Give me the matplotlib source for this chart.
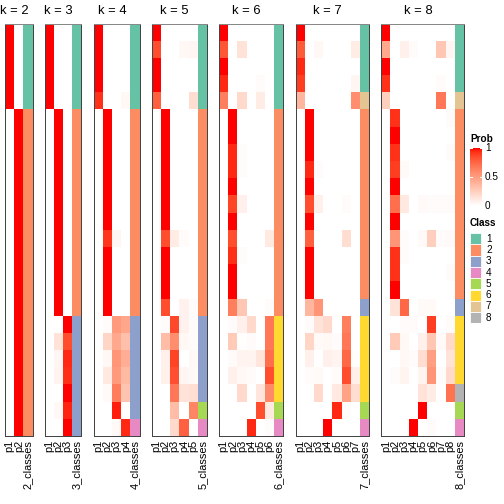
import numpy as np
import matplotlib
matplotlib.use("Agg")
import matplotlib.pyplot as plt
from matplotlib.colors import ListedColormap, BoundaryNorm
from matplotlib.patches import Rectangle

plt.rcParams['font.family'] = ['Liberation Sans', 'DejaVu Sans']

##### DATA (24 samples, membership probability per class)
ks = [2, 3, 4, 5, 6, 7, 8]

prob_k2 = [[1, 0], [1, 0], [1, 0], [1, 0], [1, 0],
           [0, 1], [0, 1], [0, 1], [0, 1], [0, 1], [0, 1], [0, 1], [0, 1], [0, 1], [0, 1],
           [0, 1], [0, 1], [0, 1], [0, 1], [0, 1], [0, 1], [0, 1], [0, 1], [0, 1]]
class_k2 = [1, 1, 1, 1, 1, 2, 2, 2, 2, 2, 2, 2, 2, 2, 2, 2, 2, 2, 2, 2, 2, 2, 2, 2]

prob_k3 = [[1, 0, 0], [1, 0, 0], [1, 0, 0], [1, 0, 0], [1, 0, 0],
           [0, 1, 0], [0, 1, 0], [0, 1, 0], [0, 1, 0], [0, 1, 0], [0, 1, 0],
           [0, 1, 0], [0, 1, 0], [0, 1, 0], [0, 1, 0], [0, 1, 0], [0, 1, 0],
           [0, 0, 1], [0, 0.15, 0.85], [0, 0.05, 0.95], [0, 0.06, 0.94],
           [0, 0, 1], [0, 0.04, 0.96], [0, 0, 1]]
class_k3 = [1, 1, 1, 1, 1, 2, 2, 2, 2, 2, 2, 2, 2, 2, 2, 2, 2, 3, 3, 3, 3, 3, 3, 3]

prob_k4 = [[1, 0, 0, 0], [1, 0, 0, 0], [1, 0, 0, 0], [1, 0, 0, 0], [0.93, 0, 0, 0.04],
           [0, 1, 0, 0], [0, 1, 0, 0], [0, 1, 0, 0], [0, 1, 0, 0], [0, 1, 0, 0], [0, 1, 0, 0],
           [0, 1, 0, 0], [0, 0.92, 0.05, 0], [0, 1, 0, 0], [0, 1, 0, 0], [0, 1, 0, 0], [0, 1, 0, 0],
           [0, 0.02, 0.52, 0.46], [0, 0.22, 0.45, 0.33], [0, 0.04, 0.54, 0.42],
           [0, 0.12, 0.52, 0.36], [0, 0.03, 0.66, 0.31], [0, 0, 0.97, 0.01], [0, 0, 0.03, 0.95]]
class_k4 = [1, 1, 1, 1, 1, 2, 2, 2, 2, 2, 2, 2, 2, 2, 2, 2, 2, 3, 3, 3, 3, 3, 3, 4]

prob_k5 = [[1, 0, 0, 0, 0], [0.85, 0, 0, 0.04, 0.05], [1, 0, 0, 0, 0], [1, 0, 0, 0, 0],
           [0.78, 0, 0, 0, 0.18],
           [0, 1, 0, 0, 0], [0, 1, 0, 0, 0], [0, 1, 0, 0, 0], [0, 1, 0, 0, 0], [0, 1, 0, 0, 0],
           [0, 1, 0, 0, 0], [0, 1, 0, 0, 0], [0, 0.85, 0.1, 0.02, 0], [0, 1, 0, 0, 0],
           [0, 1, 0, 0, 0], [0, 1, 0, 0, 0], [0, 0.85, 0, 0.07, 0.02],
           [0, 0.02, 0.87, 0.07, 0.02], [0, 0.35, 0.58, 0.04, 0.02], [0, 0.08, 0.88, 0, 0.04],
           [0, 0.08, 0.84, 0.05, 0.03], [0, 0, 0.68, 0.15, 0.17], [0, 0, 0.35, 0, 0.62],
           [0, 0, 0.2, 0.78, 0]]
class_k5 = [1, 1, 1, 1, 1, 2, 2, 2, 2, 2, 2, 2, 2, 2, 2, 2, 2, 3, 3, 3, 3, 3, 5, 4]

prob_k6 = [[1, 0, 0, 0, 0, 0], [0.82, 0, 0.15, 0, 0, 0], [1, 0, 0, 0, 0, 0],
           [0.95, 0, 0, 0, 0.02, 0], [0.65, 0, 0.2, 0, 0.1, 0],
           [0, 1, 0, 0, 0, 0], [0, 1, 0, 0, 0, 0], [0, 0.95, 0.02, 0, 0, 0],
           [0, 0.95, 0.02, 0, 0, 0], [0, 1, 0, 0, 0, 0], [0, 0.88, 0.08, 0, 0, 0],
           [0, 1, 0, 0, 0, 0], [0, 0.85, 0, 0, 0, 0.12], [0, 0.94, 0.02, 0, 0, 0],
           [0, 1, 0, 0, 0, 0], [0, 1, 0, 0, 0, 0], [0, 0.65, 0.3, 0, 0, 0.02],
           [0, 0.02, 0.08, 0.2, 0, 0.68], [0, 0.28, 0.01, 0.02, 0, 0.68],
           [0, 0.02, 0.06, 0.06, 0.14, 0.72], [0, 0.08, 0.04, 0.02, 0, 0.85],
           [0, 0, 0.2, 0, 0.14, 0.6], [0, 0, 0, 0, 0.85, 0.12], [0, 0, 0, 0.95, 0, 0.02]]
class_k6 = [1, 1, 1, 1, 1, 2, 2, 2, 2, 2, 2, 2, 2, 2, 2, 2, 2, 6, 6, 6, 6, 6, 5, 4]

prob_k7 = [[1, 0, 0, 0, 0, 0, 0], [0.8, 0, 0.04, 0, 0, 0, 0.1], [0.95, 0, 0, 0, 0, 0, 0],
           [0.9, 0, 0, 0, 0, 0, 0.05], [0.38, 0, 0, 0, 0, 0, 0.58],
           [0, 1, 0, 0, 0, 0, 0], [0, 1, 0, 0, 0, 0, 0], [0, 1, 0, 0, 0, 0, 0],
           [0, 0.95, 0.02, 0, 0, 0, 0], [0, 1, 0, 0, 0, 0, 0], [0, 0.85, 0.08, 0, 0, 0.02, 0],
           [0, 1, 0, 0, 0, 0, 0], [0, 0.78, 0, 0, 0, 0.18, 0], [0, 1, 0, 0, 0, 0, 0],
           [0, 1, 0, 0, 0, 0, 0], [0, 1, 0, 0, 0, 0, 0], [0, 0.38, 0.55, 0, 0, 0, 0],
           [0, 0.02, 0.15, 0.2, 0, 0.65, 0], [0, 0.22, 0.03, 0.04, 0.02, 0.68, 0],
           [0, 0.08, 0, 0.08, 0.06, 0.75, 0.01], [0, 0.02, 0.03, 0, 0.02, 0.85, 0.08],
           [0, 0, 0.2, 0, 0.12, 0.48, 0.18], [0, 0, 0, 0, 0.95, 0.02, 0], [0, 0, 0, 1, 0, 0, 0]]
class_k7 = [1, 1, 1, 1, 7, 2, 2, 2, 2, 2, 2, 2, 2, 2, 2, 2, 3, 6, 6, 6, 6, 6, 5, 4]

prob_k8 = [[1, 0, 0, 0, 0, 0, 0, 0], [0.45, 0, 0.08, 0.02, 0, 0, 0.3, 0.05],
           [1, 0, 0, 0, 0, 0, 0, 0], [0.93, 0, 0, 0, 0, 0, 0.02, 0],
           [0.25, 0, 0, 0, 0, 0, 0.68, 0],
           [0, 0.93, 0, 0, 0, 0, 0, 0.02], [0, 1, 0, 0, 0, 0, 0, 0],
           [0, 0.93, 0, 0, 0, 0, 0, 0.02], [0, 0.9, 0.03, 0, 0, 0, 0, 0],
           [0, 1, 0, 0, 0, 0, 0, 0], [0, 0.72, 0.12, 0, 0.03, 0.02, 0.02, 0.02],
           [0, 1, 0, 0, 0, 0, 0, 0], [0, 0.55, 0.02, 0, 0.03, 0.25, 0.02, 0.03],
           [0, 0.93, 0.02, 0, 0, 0, 0, 0], [0, 0.93, 0, 0, 0, 0, 0, 0.02],
           [0, 1, 0, 0, 0, 0, 0, 0], [0, 0.15, 0.75, 0, 0.03, 0.03, 0, 0],
           [0, 0, 0.02, 0.02, 0, 0.9, 0, 0.02], [0, 0.28, 0.04, 0, 0.08, 0.3, 0.03, 0.2],
           [0, 0, 0.04, 0.02, 0.18, 0.5, 0, 0.15], [0, 0.02, 0.06, 0, 0.06, 0.55, 0.02, 0.2],
           [0, 0, 0, 0, 0.15, 0.1, 0, 0.7], [0, 0, 0, 0, 1, 0, 0, 0],
           [0, 0, 0, 1, 0, 0.02, 0, 0]]
class_k8 = [1, 1, 1, 1, 7, 2, 2, 2, 2, 2, 2, 2, 2, 2, 2, 2, 3, 6, 6, 6, 6, 8, 5, 4]

probs = [prob_k2, prob_k3, prob_k4, prob_k5, prob_k6, prob_k7, prob_k8]
classes = [class_k2, class_k3, class_k4, class_k5, class_k6, class_k7, class_k8]

class_labels = ['1', '2', '3', '4', '5', '6', '7', '8']
class_colors = ['#66C2A5', '#FC8D62', '#8DA0CB', '#E78AC3',
                '#A6D854', '#FFD92F', '#E5C494', '#B3B3B3']


##### white -> red colour ramp interpolated in LAB space
def lab_to_rgb(L, a, b):
    fy = (L + 16) / 116
    fx = fy + a / 500
    fz = fy - b / 200
    def finv(t):
        return np.where(t > 6 / 29, t ** 3, 3 * (6 / 29) ** 2 * (t - 4 / 29))
    X = 0.95047 * finv(fx)
    Y = finv(fy)
    Z = 1.08883 * finv(fz)
    r = 3.2406 * X - 1.5372 * Y - 0.4986 * Z
    g = -0.9689 * X + 1.8758 * Y + 0.0415 * Z
    bb = 0.0557 * X - 0.2040 * Y + 1.0570 * Z
    rgb = np.clip(np.stack([r, g, bb], -1), 0, None)
    rgb = np.where(rgb <= 0.0031308, 12.92 * rgb, 1.055 * rgb ** (1 / 2.4) - 0.055)
    return np.clip(rgb, 0, 1)

t = np.linspace(0, 1, 256)
prob_cmap = ListedColormap(lab_to_rgb(100 - 46.76 * t, 80.09 * t, 67.20 * t))
class_cmap = ListedColormap(class_colors)
class_norm = BoundaryNorm(np.arange(0.5, 9.5, 1), class_cmap.N)

##### LAYOUT (pixels)
W = H = 504
fig = plt.figure(figsize=(7, 7), dpi=72)

def box(x0, y0, w, h):
    return [x0 / W, 1 - (y0 + h) / H, w / W, h / H]

col_w = 9.2
gap = 12.1
top = 23.5
hm_h = 412.5
left = 5

for k, p, c in zip(ks, probs, classes):
    p = np.array(p, dtype=float)
    c = np.array(c)
    n = len(c)
    w = (k + 1) * col_w
    ax = fig.add_axes(box(left, top, w, hm_h))
    ax.pcolormesh(np.arange(k + 1), np.arange(n + 1), p, cmap=prob_cmap, vmin=0, vmax=1)
    ax.pcolormesh([k, k + 1], np.arange(n + 1), c[:, None], cmap=class_cmap, norm=class_norm)
    ax.set_xlim(0, k + 1)
    ax.set_ylim(n, 0)
    ax.set_yticks([])
    ax.set_xticks(np.arange(k + 1) + 0.5)
    ax.set_xticklabels(['p%d' % (i + 1) for i in range(k)] + ['%d_classes' % k],
                       rotation=90, fontsize=11)
    ax.tick_params(axis='x', length=0, pad=4)
    for s in ax.spines.values():
        s.set_color('#444444')
        s.set_linewidth(1)
    ax.spines['top'].set_color('#888888')
    ax.text(k / 2, -0.7, 'k = %d' % k, ha='center', va='center', fontsize=13, clip_on=False)
    left += w + gap

##### LEGENDS
fig.text(470 / W, 1 - 139 / H, 'Prob', fontsize=10, fontweight='bold', va='center')
cax = fig.add_axes(box(470, 148, 12, 58))
cax.imshow(np.linspace(1, 0, 100)[:, None], cmap=prob_cmap, vmin=0, vmax=1,
           aspect='auto', extent=[0, 1, 0, 1])
for v in [0, 0.5, 1]:
    cax.plot([0, 0.2], [v, v], color='white', lw=1)
    cax.plot([0.8, 1], [v, v], color='white', lw=1)
cax.set_xlim(0, 1)
cax.set_ylim(0, 1)
cax.set_axis_off()
for v, lab in zip([1, 0.5, 0], ['1', '0.5', '0']):
    cax.text(1.25, v, lab, fontsize=10, va='center', ha='left', clip_on=False)

fig.text(470 / W, 1 - 223 / H, 'Class', fontsize=10, fontweight='bold', va='center')
lax = fig.add_axes(box(470, 233, 30, 11.3 * len(class_labels)))
lax.set_xlim(0, 30)
lax.set_ylim(len(class_labels), 0)
lax.set_axis_off()
for i, (lab, col) in enumerate(zip(class_labels, class_colors)):
    lax.add_patch(Rectangle((0, i), 11, 1, facecolor=col, edgecolor='white', lw=0.8))
    lax.text(16, i + 0.5, lab, fontsize=10, va='center', ha='left')

fig.savefig('out.png', dpi=72)
